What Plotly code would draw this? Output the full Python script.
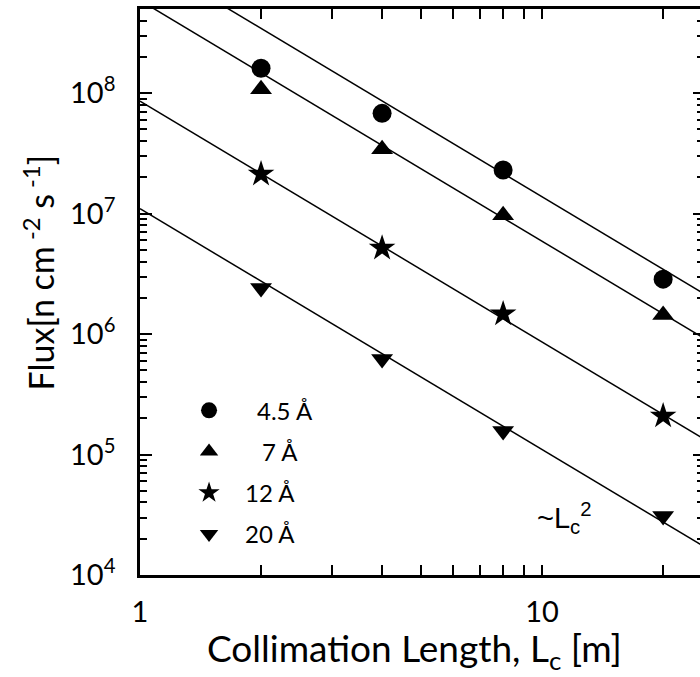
import numpy as np
import plotly.graph_objects as go

# ---- data ----
collimation_length_m = [2, 4, 8, 20]
flux_4p5A = [1.61e8, 6.8e7, 2.3e7, 2.86e6]
flux_7A = [1.08e8, 3.43e7, 9.7e6, 1.44e6]
flux_12A = [2.13e7, 5.17e6, 1.47e6, 2.09e5]
flux_20A = [2.41e6, 6.2e5, 1.57e5, 3.09e4]
series_names = ["\u20024.5 Å", "\u2007\u20097 Å", "12 Å", "20 Å"]

# guide lines ~ A * Lc^-2
fit_prefactor = [1.38e9, 5.9e8, 8.6e7, 1.1e7]
fit_exponent = -2.0
fit_x_span = [1.0, 25.0]

x_tick_vals = [1, 10]
x_tick_text = ["1", "10"]
x_minor_vals = [2, 3, 4, 5, 6, 7, 8, 9, 20]
y_tick_vals = [1e4, 1e5, 1e6, 1e7, 1e8]
y_tick_text = ["10<sup>4</sup>", "10<sup>5</sup>", "10<sup>6</sup>", "10<sup>7</sup>", "10<sup>8</sup>"]
y_minor_vals = [m * 10 ** e for e in range(4, 9) for m in range(2, 10) if m * 10 ** e <= 5e8]

x_range_max = 24.7
y_range = [1e4, 5e8]

symbols = ["circle", "triangle-up", "star", "triangle-down"]
sizes = [19, 19, 20, 19]
all_flux = [flux_4p5A, flux_7A, flux_12A, flux_20A]

FONT = "Lato"

fig = go.Figure()

xl = np.array(fit_x_span)
for A in fit_prefactor:
    fig.add_trace(go.Scatter(x=xl, y=A * xl ** fit_exponent, mode="lines",
                             line=dict(color="black", width=1.5),
                             showlegend=False, hoverinfo="skip"))

for name, sym, sz, fl in zip(series_names, symbols, sizes, all_flux):
    fig.add_trace(go.Scatter(x=collimation_length_m, y=fl, mode="markers", name=name,
                             marker=dict(symbol=sym, size=sz, color="black",
                                         line=dict(width=0)),
                             legendgroup=name))

# invisible trace to carry the right-hand tick axis
fig.add_trace(go.Scatter(x=collimation_length_m, y=flux_12A, yaxis="y2", mode="markers",
                         marker=dict(opacity=0), showlegend=False, hoverinfo="skip"))

fig.update_layout(
    width=700, height=677,
    margin=dict(l=140, r=0, t=9, b=102),
    paper_bgcolor="white", plot_bgcolor="white",
    font=dict(family=FONT, color="black"),
    showlegend=True,
    legend=dict(x=0.059, y=0.33, xanchor="left", yanchor="top",
                bgcolor="rgba(0,0,0,0)", font=dict(size=24, family=FONT),
                tracegroupgap=7, itemwidth=62),
    xaxis=dict(type="log", range=[0, np.log10(x_range_max)],
               showline=True, linecolor="black", linewidth=2.5, mirror="allticks",
               ticks="inside", ticklen=10, tickwidth=1.5, tickcolor="black",
               tickvals=x_tick_vals, ticktext=x_tick_text,
               minor=dict(ticks="inside", ticklen=6, tickwidth=1.5, tickcolor="black",
                          tickvals=x_minor_vals, showgrid=False),
               showgrid=False, zeroline=False,
               tickfont=dict(size=29, family=FONT), ticklabelstandoff=9),
    yaxis=dict(type="log", range=[np.log10(y_range[0]), np.log10(y_range[1])],
               showline=True, linecolor="black", linewidth=2.5, mirror=False,
               ticks="inside", ticklen=12, tickwidth=1.5, tickcolor="black",
               tickvals=y_tick_vals, ticktext=y_tick_text,
               minor=dict(ticks="inside", ticklen=7, tickwidth=1.5, tickcolor="black",
                          tickvals=y_minor_vals, showgrid=False),
               showgrid=False, zeroline=False,
               tickfont=dict(size=29, family=FONT), ticklabelstandoff=16),
    yaxis2=dict(type="log", range=[np.log10(y_range[0]), np.log10(y_range[1])],
                overlaying="y", side="right", anchor="x",
                showline=False, ticks="inside", ticklen=7, tickwidth=1.5, tickcolor="black",
                tickvals=y_tick_vals, showticklabels=False,
                minor=dict(ticks="inside", ticklen=3, tickwidth=1.5, tickcolor="black",
                           tickvals=y_minor_vals, showgrid=False),
                showgrid=False, zeroline=False),
    annotations=[
        dict(text="~L<sub>c</sub><sup>2</sup>", xref="paper", yref="paper",
             x=0.758, y=0.10, xanchor="center", yanchor="middle", showarrow=False,
             font=dict(size=29, family="Liberation Sans", color="black")),
        dict(text="Collimation Length, L<sub>c</sub> [m]", xref="paper", yref="paper",
             x=0.491, y=-0.133, xanchor="center", yanchor="middle", showarrow=False,
             font=dict(size=37, family=FONT, color="black")),
        dict(text="Flux[n cm<sup> -2</sup> s<sup> -1</sup>]", xref="paper", yref="paper",
             x=-0.18, y=0.535, xanchor="center", yanchor="middle", showarrow=False,
             textangle=-90,
             font=dict(size=34, family=FONT, color="black")),
    ],
)

fig.write_html("out.html")
